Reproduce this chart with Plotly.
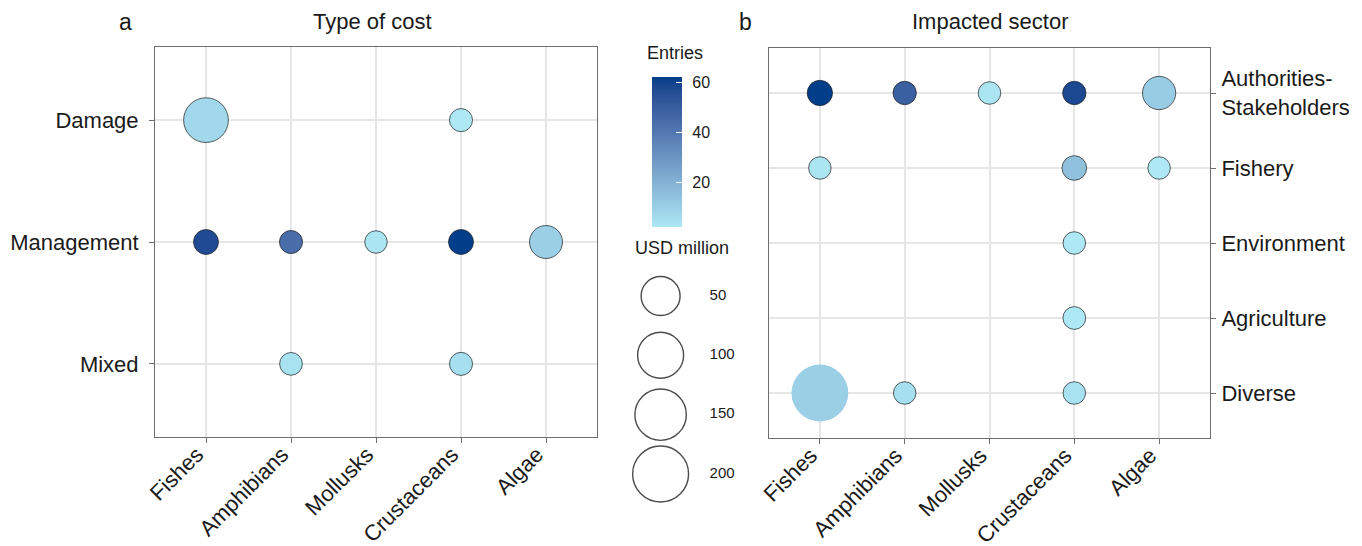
import numpy as np
import plotly.graph_objects as go

# ---------------- data ----------------
taxa = ["Fishes", "Amphibians", "Mollusks", "Crustaceans", "Algae"]
cost_types = ["Damage", "Management", "Mixed"]
AUTH = "Authorities-<br>Stakeholders"
sectors = [AUTH, "Fishery", "Environment", "Agriculture", "Diverse"]

# panel a : type of cost
a_taxon = ["Fishes", "Crustaceans", "Fishes", "Amphibians", "Mollusks",
           "Crustaceans", "Algae", "Amphibians", "Crustaceans"]
a_type = ["Damage", "Damage", "Management", "Management", "Management",
          "Management", "Management", "Mixed", "Mixed"]
a_usd = [90, 0.2, 1.5, 0.2, 0.05, 1.5, 21, 0.1, 0.2]
a_entries = [7, 2, 57, 44, 3, 62, 10, 4, 5]

# panel b : impacted sector
b_taxon = ["Fishes", "Amphibians", "Mollusks", "Crustaceans", "Algae",
           "Fishes", "Crustaceans", "Algae",
           "Crustaceans", "Crustaceans",
           "Fishes", "Amphibians", "Crustaceans"]
b_sector = [AUTH, AUTH, AUTH, AUTH, AUTH,
            "Fishery", "Fishery", "Fishery",
            "Environment", "Agriculture",
            "Diverse", "Diverse", "Diverse"]
b_usd = [1.9, 0.3, 0.05, 0.3, 22, 0.05, 1.2, 0.05, 0.05, 0.1, 210, 0.05, 0.05]
b_entries = [62, 49, 3, 58, 11, 3, 15, 2, 2, 2, 10, 5, 4]
b_outlined = [1, 1, 1, 1, 1, 1, 1, 1, 1, 1, 0, 1, 1]

legend_usd = [50, 100, 150, 200]
entries_ticks = [20, 40, 60]
entries_min, entries_max = 2, 62

# ---------------- styles / helpers ----------------
W, H = 1362, 546
FONT = "Liberation Sans, Arial, sans-serif"
LOW, HIGH = "#ADE8F4", "#023E8A"


def size_px(v):
    return 22 + 2.4 * np.sqrt(np.asarray(v, dtype=float))


def _hex_to_rgb(h):
    h = h.lstrip("#")
    return [int(h[i:i + 2], 16) for i in (0, 2, 4)]


def _rgb_to_lab(rgb):
    c = np.array(rgb) / 255.0
    c = np.where(c <= 0.04045, c / 12.92, ((c + 0.055) / 1.055) ** 2.4)
    M = np.array([[0.4124, 0.3576, 0.1805], [0.2126, 0.7152, 0.0722], [0.0193, 0.1192, 0.9505]])
    xyz = M @ c / np.array([0.95047, 1.0, 1.08883])
    f = np.where(xyz > 0.008856, np.cbrt(xyz), 7.787 * xyz + 16 / 116)
    return np.array([116 * f[1] - 16, 500 * (f[0] - f[1]), 200 * (f[1] - f[2])])


def _lab_to_rgb(lab):
    L, a, b = lab
    fy = (L + 16) / 116
    fx = fy + a / 500
    fz = fy - b / 200
    f = np.array([fx, fy, fz])
    xyz = np.where(f ** 3 > 0.008856, f ** 3, (f - 16 / 116) / 7.787) * np.array([0.95047, 1.0, 1.08883])
    Mi = np.array([[3.2406, -1.5372, -0.4986], [-0.9689, 1.8758, 0.0415], [0.0557, -0.2040, 1.0570]])
    c = Mi @ xyz
    c = np.where(c <= 0.0031308, 12.92 * c, 1.055 * np.clip(c, 0, None) ** (1 / 2.4) - 0.055)
    c = np.clip(np.round(c * 255), 0, 255).astype(int)
    return "rgb(%d,%d,%d)" % tuple(c)


lab_lo, lab_hi = _rgb_to_lab(_hex_to_rgb(LOW)), _rgb_to_lab(_hex_to_rgb(HIGH))
colorscale = [[t, _lab_to_rgb(lab_lo + (lab_hi - lab_lo) * t)] for t in np.linspace(0, 1, 21)]

STROKE = "rgba(30,30,30,0.7)"
TXT = "#1a1a1a"

fig = go.Figure()

# panel a bubbles
fig.add_trace(go.Scatter(
    x=a_taxon, y=a_type, mode="markers", xaxis="x", yaxis="y",
    marker=dict(size=size_px(a_usd), color=a_entries, coloraxis="coloraxis",
                line=dict(color=STROKE, width=1), opacity=1),
    hovertemplate="%{x}<br>%{y}<extra></extra>", showlegend=False))

# panel b bubbles
fig.add_trace(go.Scatter(
    x=b_taxon, y=b_sector, mode="markers", xaxis="x2", yaxis="y2",
    marker=dict(size=size_px(b_usd), color=b_entries, coloraxis="coloraxis",
                line=dict(color=STROKE, width=[1.0 * o for o in b_outlined]), opacity=1),
    hovertemplate="%{x}<br>%{y}<extra></extra>", showlegend=False))

# size legend
fig.add_trace(go.Scatter(
    x=[0.29] * len(legend_usd), y=list(range(len(legend_usd))), mode="markers",
    xaxis="x3", yaxis="y3",
    marker=dict(size=size_px(legend_usd), color="white", line=dict(color="black", width=1.4)),
    hoverinfo="skip", showlegend=False))
fig.add_trace(go.Scatter(
    x=[0.64] * len(legend_usd), y=list(range(len(legend_usd))), mode="text",
    text=[str(v) for v in legend_usd], textposition="middle right",
    textfont=dict(family=FONT, size=15, color=TXT),
    xaxis="x3", yaxis="y3", hoverinfo="skip", showlegend=False))

GRID = "#e6e6e6"
LINE = "#6e6e6e"
TICKFONT = dict(family=FONT, size=22, color=TXT)


def px_x(a, b):
    return [a / W, b / W]


def px_y(top, bottom):
    return [1 - bottom / H, 1 - top / H]


common_x = dict(type="category", categoryorder="array", categoryarray=taxa,
                range=[-0.6, 4.6], showgrid=True, gridcolor=GRID, gridwidth=1.5,
                showline=True, linecolor=LINE, linewidth=1, mirror=True,
                ticks="outside", ticklen=5, tickcolor=LINE, tickwidth=1,
                tickangle=-45, tickfont=TICKFONT, zeroline=False, fixedrange=True,
                automargin=False, ticklabelstandoff=-10, ticklabelshift=-9)


def ann(text, xpx, ypx, size, anchor="center"):
    return dict(text=text, x=xpx / W, y=1 - ypx / H, xref="paper", yref="paper",
                xanchor=anchor, yanchor="middle", showarrow=False,
                font=dict(family=FONT, size=size, color=TXT))


fig.update_layout(
    width=W, height=H, autosize=False,
    margin=dict(l=0, r=0, t=0, b=0, autoexpand=False),
    paper_bgcolor="white", plot_bgcolor="white",
    font=dict(family=FONT, color=TXT),
    xaxis=dict(domain=px_x(155, 597), anchor="y", **common_x),
    yaxis=dict(domain=px_y(47, 437), anchor="x", type="category",
               categoryorder="array", categoryarray=cost_types, range=[2.6, -0.6],
               showgrid=True, gridcolor=GRID, gridwidth=1.5,
               showline=True, linecolor=LINE, linewidth=1, mirror=True,
               ticks="outside", ticklen=5, tickcolor=LINE, ticklabelstandoff=6,
               tickfont=TICKFONT, zeroline=False, fixedrange=True, automargin=False),
    xaxis2=dict(domain=px_x(769, 1210), anchor="y2", **common_x),
    yaxis2=dict(domain=px_y(48, 438), anchor="x2", type="category", side="right",
                categoryorder="array", categoryarray=sectors, range=[4.6, -0.6],
                showgrid=True, gridcolor=GRID, gridwidth=1.5,
                showline=True, linecolor=LINE, linewidth=1, mirror=True,
                ticks="outside", ticklen=5, tickcolor=LINE, ticklabelstandoff=1,
                tickfont=TICKFONT, zeroline=False, fixedrange=True, automargin=False),
    xaxis3=dict(domain=px_x(620, 760), anchor="y3", range=[0, 1], visible=False,
                fixedrange=True, automargin=False),
    yaxis3=dict(domain=px_y(266.3, 503.7), anchor="x3", range=[3.5, -0.5], visible=False,
                fixedrange=True, automargin=False),
    coloraxis=dict(
        cmin=entries_min, cmax=entries_max, colorscale=colorscale,
        colorbar=dict(
            x=652 / W, xanchor="left", xpad=0,
            y=1 - 152 / H, yanchor="middle", ypad=0,
            thickness=30, thicknessmode="pixels", len=150, lenmode="pixels",
            outlinewidth=0, tickmode="array", tickvals=entries_ticks,
            ticktext=["\u2005\u2006" + str(t) for t in entries_ticks],
            ticks="inside", tickcolor="white", ticklen=6, tickwidth=1,
            tickfont=dict(family=FONT, size=16, color=TXT),
        ),
    ),
    annotations=[
        ann("a", 125, 22, 23),
        ann("Type of cost", 372, 22, 22),
        ann("b", 745, 22, 23),
        ann("Impacted sector", 990, 22, 22),
        ann("Entries", 675, 53, 18),
        ann("USD million", 682, 248, 18),
    ],
)

fig.write_html("out.html", config={"displayModeBar": False},
               post_script="document.body.style.margin='0px';")
